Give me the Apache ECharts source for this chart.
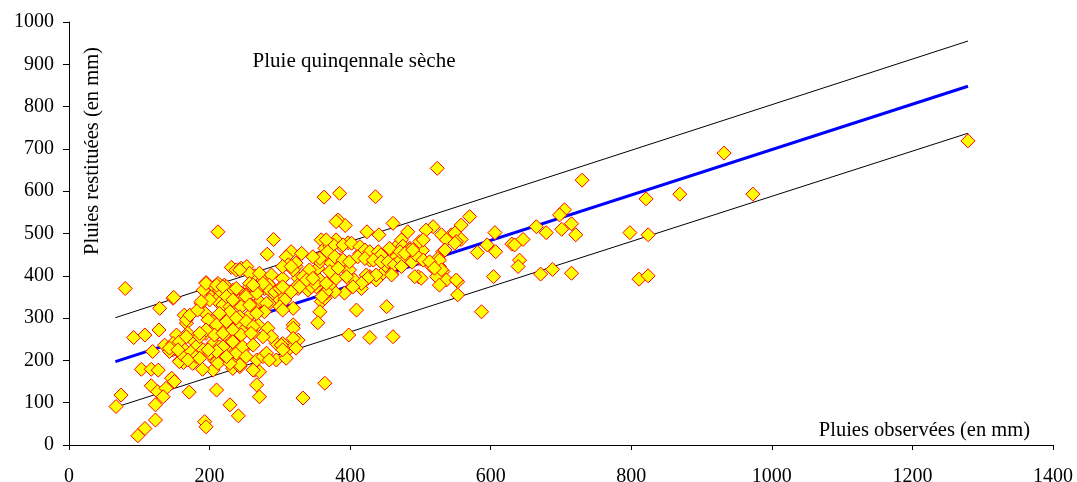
<!DOCTYPE html>
<html>
<head>
<meta charset="utf-8">
<script src="https://cdn.jsdelivr.net/npm/echarts/dist/echarts.min.js"></script>
<style>
  html, body { margin: 0; padding: 0; background: #fff; }
  #chart { width: 1077px; height: 482px; }
</style>
</head>
<body>
<div id="chart"></div>
<script>
// ---- Data ----
const chartTitle = "Pluie quinqennale sèche";
const xAxisName = "Pluies observées (en mm)";
const yAxisName = "Pluies restituées (en mm)";

// x-axis / y-axis ranges and ticks
const xTicks = [0, 200, 400, 600, 800, 1000, 1200, 1400];
const yTicks = [0, 100, 200, 300, 400, 500, 600, 700, 800, 900, 1000];

// regression line and the two bounding lines: x ends and y ends
const lineX = [66, 1279];
const fitY = [197, 848];
const upperY = [301, 955];
const lowerY = [89, 737];

// observed / restituted rainfall points, [observed, restituted]
const clusterWest = [
  [80,370],[148,347],[129,323],[188,335],[194,311],[164,307],[167,288],[128,272],[92,254],[108,260],
  [153,260],[119,221],[148,225],[152,230],[160,215],[158,200],[168,210],[163,195],[103,179],[117,179],
  [127,177],[146,158],[150,150],[117,140],[126,126],[138,134],[134,114],[171,125],[74,118],[67,91],
  [123,95],[210,130],[229,95],[241,69],[123,59],[108,39],[98,22],[193,55],[195,43],[205,177],
  [190,179],[207,201],[233,181],[243,185],[264,177],[267,142],[271,114],[136,236],[143,221],[169,264],
  [148,240],[162,229],[172,213],[157,197],[176,193],[143,229],[161,213],[157,244],[155,225],[174,221],
  [181,209],[169,201],[176,248],[183,236],[167,256],[167,296],[172,307],[183,319]
];
const clusterCore = [
  [212,504],[291,486],[282,451],[231,420],[238,414],[245,418],[253,422],[264,400],[257,406],[195,384],
  [217,374],[205,355],[214,351],[226,343],[238,366],[276,390],[283,382],[278,370],[191,366],[207,374],
  [221,378],[233,366],[245,359],[257,374],[267,362],[290,359],[271,339],[257,335],[243,343],[229,331],
  [214,335],[200,343],[285,335],[271,406],[288,402],[285,378],[283,370],[269,370],[276,382],[257,382],
  [293,362],[212,382],[224,374],[214,366],[231,362],[252,355],[243,335],[243,414],[191,225],[186,205],
  [210,197],[200,217],[229,225],[238,209],[243,189],[267,201],[276,209],[271,173],[295,201],[219,331],
  [229,327],[245,327],[262,327],[281,335],[278,315],[257,307],[243,303],[226,307],[214,303],[205,292],
  [205,276],[217,284],[231,288],[240,284],[255,280],[269,284],[283,276],[295,240],[288,256],[276,256],
  [262,264],[247,268],[238,256],[221,260],[210,264],[195,264],[186,256],[205,240],[214,232],[224,232],
  [236,240],[247,225],[238,217],[224,205],[212,193],[229,193],[262,177],[281,217],[285,201],[195,382],
  [210,378],[219,374],[238,370],[252,351],[267,359],[262,378],[224,351],[233,343],[257,331],[267,311],
  [229,315],[214,311],[198,296],[210,284],[224,292],[238,300],[252,292],[262,280],[195,272],[207,260],
  [219,264],[233,272],[245,260],[259,264],[233,244],[247,232],[262,236],[219,232],[210,221],[198,225],
  [224,209],[252,209],[186,264],[188,339],[149,349]
];
const clusterMid = [
  [363,586],[359,485],[316,457],[331,453],[309,445],[307,370],[304,394],[323,422],[312,426],[326,394],
  [338,406],[342,390],[354,394],[354,418],[364,465],[366,445],[357,433],[359,339],[364,347],[302,366],
  [314,362],[326,370],[340,366],[352,374],[366,359],[300,343],[385,595],[436,587],[383,532],[393,519],
  [461,524],[424,504],[441,497],[468,473],[380,485],[397,478],[371,470],[388,470],[323,430],[304,422],
  [319,414],[342,414],[357,441],[373,430],[385,437],[390,422],[399,414],[397,394],[406,390],[414,453],
  [423,445],[428,437],[437,445],[447,437],[456,449],[466,445],[452,414],[459,406],[444,402],[428,398],
  [437,390],[423,402],[416,370],[392,359],[378,362],[371,378],[300,370],[307,351],[316,362],[326,378],
  [333,398],[338,386],[345,374],[357,390],[357,315],[354,289],[319,284],[409,319],[452,327],[366,362],
  [350,382],[376,473],[380,528],[347,445],[316,422],[307,343],[319,323],[328,374],[304,374],[338,390],
  [347,394],[300,327],[319,276],[326,248],[316,236],[309,221],[304,240],[309,205],[302,236],[304,319],
  [319,252],[304,225],[323,229],[360,351],[366,485],[390,473],[402,477],[414,469],[421,461],[428,457],
  [440,457],[444,449],[456,465],[368,457],[378,445],[390,437],[399,433],[411,445],[421,441],[433,437],
  [444,433],[454,433],[463,426],[459,402],[437,402],[425,394],[416,382],[404,374],[366,382],[380,394],
  [395,398],[371,410],[383,418],[398,260],[428,254],[461,256],[364,146],[333,111]
];
const clusterEast = [
  [524,654],[570,540],[558,520],[518,516],[508,508],[482,504],[473,485],[530,497],[544,497],[549,501],
  [558,486],[551,481],[537,485],[475,470],[485,465],[490,455],[480,450],[495,445],[500,440],[472,438],
  [488,432],[503,460],[532,457],[525,441],[516,422],[527,422],[532,410],[523,398],[537,390],[527,378],
  [497,398],[501,394],[553,386],[553,355],[587,315],[581,455],[595,473],[606,502],[607,457],[604,398],
  [630,475],[634,473],[646,486],[641,437],[639,422],[665,516],[679,502],[671,404],[688,415],[549,477],
  [535,461],[527,437],[530,414],[492,398],[499,481],[504,485],[471,457],[485,461],[494,449],[504,437],
  [513,433],[520,418],[551,390],[478,453],[489,461],[473,422]
];
const rightTail = [
  [730,626],[932,690],[705,556],[698,544],[715,523],[701,510],[721,497],[715,406],[821,582],[869,593],
  [973,593],[798,502],[824,497],[811,392],[824,400],[1279,719]
];

// ---- Chart ----
const FONT = '"Liberation Serif", "Times New Roman", serif';
const points = [].concat(clusterWest, clusterCore, clusterMid, clusterEast, rightTail);
const pair = (xs, ys) => xs.map((x, i) => [x, ys[i]]);
const plain = v => String(v);

const chart = echarts.init(document.getElementById('chart'), null, { renderer: 'canvas' });
const axisCommon = {
  type: 'value',
  splitLine: { show: false },
  axisLine: { show: true, lineStyle: { color: '#000', width: 1 } },
  axisTick: { show: true, inside: false, lineStyle: { color: '#000', width: 1 } },
  axisLabel: { color: '#000', fontFamily: FONT, fontSize: 20, formatter: plain }
};
chart.setOption({
  animation: false,
  backgroundColor: '#fff',
  grid: { left: 69, right: 24, top: 22, bottom: 37, containLabel: false, outerBoundsMode: 'none' },
  xAxis: Object.assign({}, axisCommon, {
    min: xTicks[0], max: xTicks[xTicks.length - 1], interval: xTicks[1] - xTicks[0],
    axisTick: Object.assign({}, axisCommon.axisTick, { length: 5 }),
    axisLabel: Object.assign({}, axisCommon.axisLabel, { margin: 22 })
  }),
  yAxis: Object.assign({}, axisCommon, {
    min: yTicks[0], max: yTicks[yTicks.length - 1], interval: yTicks[1] - yTicks[0],
    axisTick: Object.assign({}, axisCommon.axisTick, { length: 6 }),
    axisLabel: Object.assign({}, axisCommon.axisLabel, { margin: 15 })
  }),
  series: [
    { type: 'line', data: pair(lineX, upperY), showSymbol: false, symbol: 'none',
      lineStyle: { color: '#000', width: 1 }, z: 1, silent: true },
    { type: 'line', data: pair(lineX, lowerY), showSymbol: false, symbol: 'none',
      lineStyle: { color: '#000', width: 1 }, z: 1, silent: true },
    { type: 'line', data: pair(lineX, fitY), showSymbol: false, symbol: 'none',
      lineStyle: { color: '#0000FF', width: 3 }, z: 2, silent: true },
    { type: 'scatter', data: points, symbol: 'diamond', symbolSize: 14,
      itemStyle: { color: '#FFFF00', borderColor: '#FF0000', borderWidth: 1, opacity: 1 }, z: 3 }
  ],
  graphic: [
    { type: 'text', x: 354, y: 61, z: 10,
      style: { text: chartTitle, fill: '#000', font: '21px ' + FONT,
               align: 'center', verticalAlign: 'middle', textAlign: 'center', textVerticalAlign: 'middle' } },
    { type: 'text', x: 1030, y: 431, z: 10,
      style: { text: xAxisName, fill: '#000', font: '20.5px ' + FONT,
               align: 'right', verticalAlign: 'middle', textAlign: 'right', textVerticalAlign: 'middle' } },
    { type: 'text', x: 93, y: 151, rotation: Math.PI / 2, z: 10,
      style: { text: yAxisName, fill: '#000', font: '20.5px ' + FONT,
               align: 'center', verticalAlign: 'middle', textAlign: 'center', textVerticalAlign: 'middle' } }
  ]
});
</script>
</body>
</html>
